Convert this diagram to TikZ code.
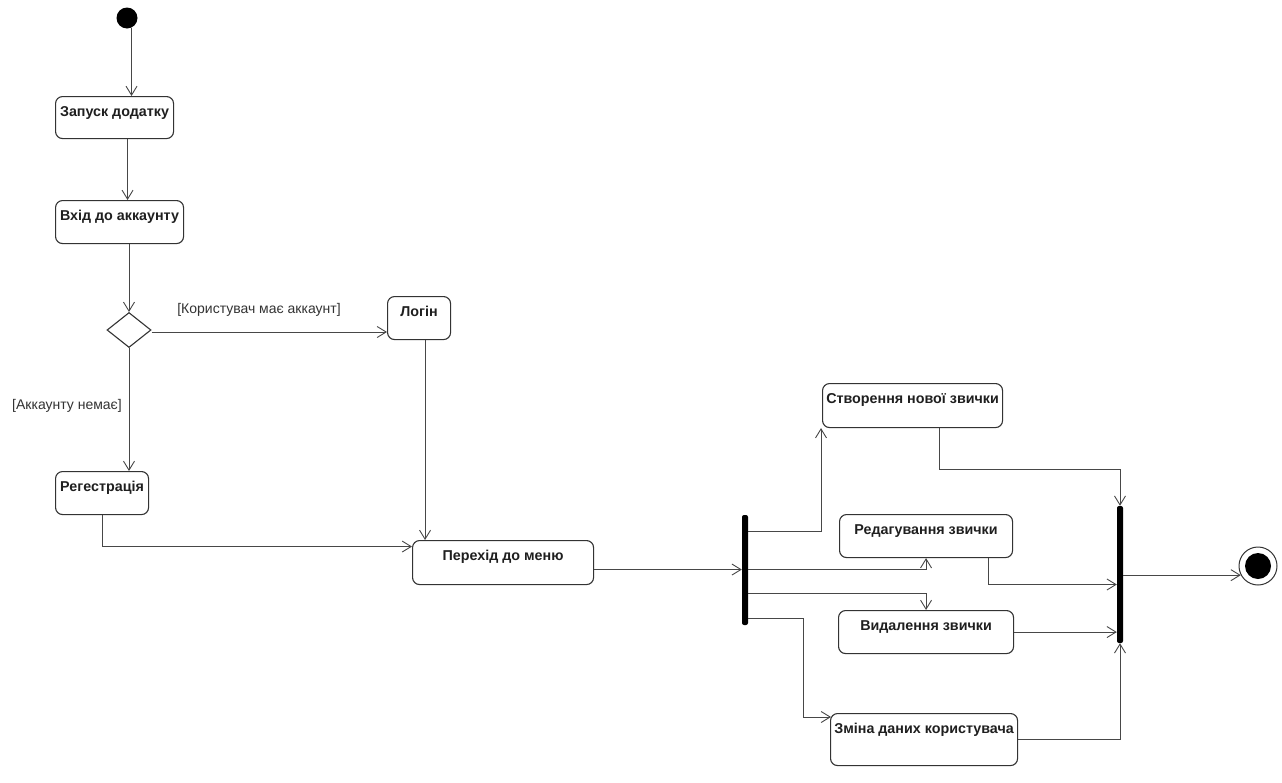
\documentclass[tikz,border=0pt]{standalone}
\usepackage{fontspec}
\setmainfont{Liberation Sans}
\usetikzlibrary{arrows.meta,shapes.geometric,calc}
\begin{document}
\begin{tikzpicture}[x=1pt,y=-1pt,
  act/.style={draw=black!80, line width=1.1pt, rounded corners=7pt, inner xsep=0pt, inner ysep=0pt,
    text height=20pt, font=\fontsize{14.3}{16}\selectfont\bfseries, text=black!88, anchor=north west},
  conn/.style={draw=black!72, line width=0.9pt, -{Straight Barb[length=9pt,width=11pt]}},
  bar/.style={fill=black, inner sep=0pt, minimum width=6pt, rounded corners=2pt},
  guard/.style={font=\fontsize{14}{16}\selectfont, text=black!80, inner sep=0pt}
]
\useasboundingbox (0,0) rectangle (1282,782);
\fill[white] (0,0) rectangle (1282,782);

% start / end
\node[circle, fill=black, minimum size=21pt, inner sep=0pt] (init) at (127,18) {};
\node[circle, draw=black!80, line width=1pt, minimum size=38pt, inner sep=0pt] (fin) at (1258,566) {};
\node[circle, fill=black, minimum size=26pt, inner sep=0pt] (finin) at (fin) {};

% actions
\node[act, minimum width=118pt, text depth=22pt] (zap) at (55,96) {Запуск додатку};
\node[act, minimum width=128pt, text depth=23pt] (vhid) at (55,200) {Вхід до аккаунту};
\node[draw=black!80, line width=1.1pt, diamond, minimum width=44pt, minimum height=35pt, inner sep=0pt] (dec) at (129,330) {};
\node[act, minimum width=63pt, text depth=23pt] (login) at (387,296) {Логін};
\node[act, minimum width=93pt, text depth=23pt] (reg) at (55,471) {Регестрація};
\node[act, minimum width=181pt, text depth=24pt] (perehid) at (412,540) {Перехід до меню};
\node[act, minimum width=180pt, text depth=24pt] (stvor) at (822,383) {Створення нової звички};
\node[act, minimum width=173pt, text depth=23pt] (redag) at (839,514) {Редагування звички};
\node[act, minimum width=175pt, text depth=23pt] (vydal) at (838,610) {Видалення звички};
\node[act, minimum width=187pt, text depth=32pt] (zmina) at (830,713) {Зміна даних користувача};

% bars
\node[bar, minimum height=110pt] (fork) at (745,570) {};
\node[bar, minimum height=137pt] (join) at (1120,574.5) {};

% guards
\node[guard] (g1) at (259,310) {[Користувач має аккаунт]};
\node[guard] (g2) at (67,406) {[Аккаунту немає]};

% connectors
\draw[conn] (init.-65) -- (init.-65 |- zap.north);
\coordinate (z1) at ($(zap.south)+(13,0)$);
\draw[conn] (z1) -- (z1 |- vhid.north);
\draw[conn] (dec.north |- vhid.south) -- (dec.north);
\coordinate (d1) at ($(dec.east)+(0,2)$);
\draw[conn] (d1) -- (d1 -| login.west);
\draw[conn] (dec.south) -- (dec.south |- reg.north);
\draw[conn] (reg.south) |- ($(perehid.west)+(0,-16)$);
\coordinate (l1) at ($(login.south)+(6,0)$);
\draw[conn] (l1) -- (l1 |- perehid.north);
\coordinate (p1) at ($(perehid.east)+(0,7)$);
\draw[conn] (p1) -- (p1 -| fork.west);

\coordinate (f1) at ($(fork.north east)+(0,17)$);
\draw[conn] (f1) -| ($(stvor.south west)+(-1,0)$);
\coordinate (f2) at ($(fork.east)+(0,-1)$);
\draw[conn] (f2) -| (redag.south);
\coordinate (f3) at ($(fork.east)+(0,23)$);
\draw[conn] (f3) -| (vydal.north);
\coordinate (f4) at ($(fork.south east)+(0,-7)$);
\draw[conn] (f4) -| ($(zmina.north west)+(-27,4)$) -- ($(zmina.north west)+(1,4)$);

\coordinate (s1) at ($(stvor.south)+(27,0)$);
\draw[conn] (s1) |- ($(join.north)+(0,-36)$) -- (join.north);
\coordinate (r1) at ($(redag.south)+(62,0)$);
\draw[conn] (r1) |- ($(join.west)+(0,10)$);
\draw[conn] (vydal.east) -- (vydal.east -| join.west);
\draw[conn] (zmina.east) -| (join.south);
\draw[conn] (join.east |- fin.208) -- (fin.208);
\end{tikzpicture}
\end{document}
